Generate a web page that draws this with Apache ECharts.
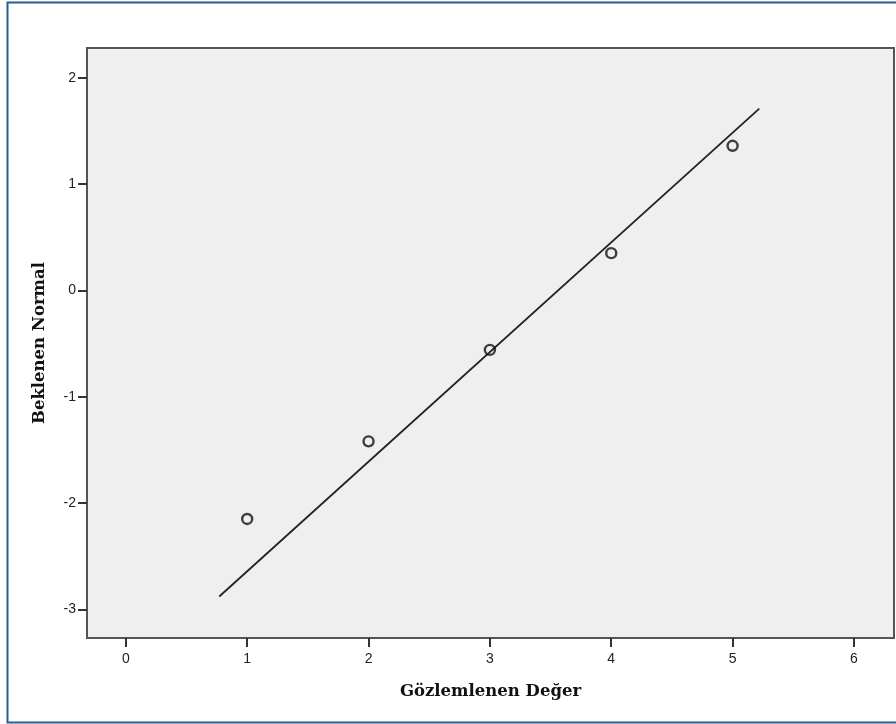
<!DOCTYPE html>
<html>
<head>
<meta charset="utf-8">
<script src="https://cdn.jsdelivr.net/npm/echarts@6/dist/echarts.min.js"></script>
<style>html,body{margin:0;padding:0;background:#fff}#c{width:896px;height:724px}</style>
</head>
<body>
<div id="c"></div>
<script>
// Data
var observed = [1, 2, 3, 4, 5];
var expectedNormal = [-2.15, -1.42, -0.56, 0.35, 1.36];
var lineX = [0.77, 5.22];
var lineY = [-2.88, 1.71];
var xTicks = [0, 1, 2, 3, 4, 5, 6];
var yTicks = [-3, -2, -1, 0, 1, 2];
var xTitle = 'Gözlemlenen Değer';
var yTitle = 'Beklenen Normal';

var chart = echarts.init(document.getElementById('c'), null, {renderer: 'canvas'});
var pts = observed.map(function (v, i) { return [v, expectedNormal[i]]; });
var linePts = lineX.map(function (v, i) { return [v, lineY[i]]; });
var tickStyle = {show: true, length: 9, inside: false, lineStyle: {color: '#333', width: 2}};
var labelStyle = {color: '#222', fontFamily: 'Liberation Sans, Arial, sans-serif', fontSize: 14};
var titleStyle = {fontFamily: 'DejaVu Serif, serif', fontWeight: 'bold', fontSize: 16.5, color: '#111'};
chart.setOption({
  animation: false,
  graphic: [{
    type: 'rect', shape: {x: 7.5, y: 2.5, width: 920, height: 720},
    style: {fill: null, stroke: '#2c5a93', lineWidth: 2}, z: -10
  }],
  grid: {left: 87, right: 2, top: 48, bottom: 86, show: true, backgroundColor: '#efefef', borderColor: '#555', borderWidth: 2},
  xAxis: {
    type: 'value', min: -0.32, max: 6.33,
    name: xTitle, nameLocation: 'middle', nameGap: 45,
    nameTextStyle: titleStyle,
    axisLine: {show: true, onZero: false, lineStyle: {color: '#555', width: 2}},
    axisTick: Object.assign({customValues: xTicks}, tickStyle),
    axisLabel: Object.assign({customValues: xTicks, margin: 14}, labelStyle),
    splitLine: {show: false}
  },
  yAxis: {
    type: 'value', min: -3.27, max: 2.28,
    name: yTitle, nameLocation: 'middle', nameGap: 39, nameRotate: 90,
    nameTextStyle: titleStyle,
    axisLine: {show: true, onZero: false, lineStyle: {color: '#555', width: 2}},
    axisTick: Object.assign({customValues: yTicks}, tickStyle),
    axisLabel: Object.assign({customValues: yTicks, margin: 11}, labelStyle),
    splitLine: {show: false}
  },
  series: [{
    type: 'line', data: linePts, showSymbol: false, symbol: 'none',
    lineStyle: {color: '#222', width: 1.8}, silent: true, z: 2
  }, {
    type: 'scatter', data: pts, symbol: 'circle', symbolSize: 10,
    itemStyle: {color: 'rgba(0,0,0,0)', borderColor: '#111', borderWidth: 2.4}, z: 3
  }]
});
</script>
</body>
</html>
